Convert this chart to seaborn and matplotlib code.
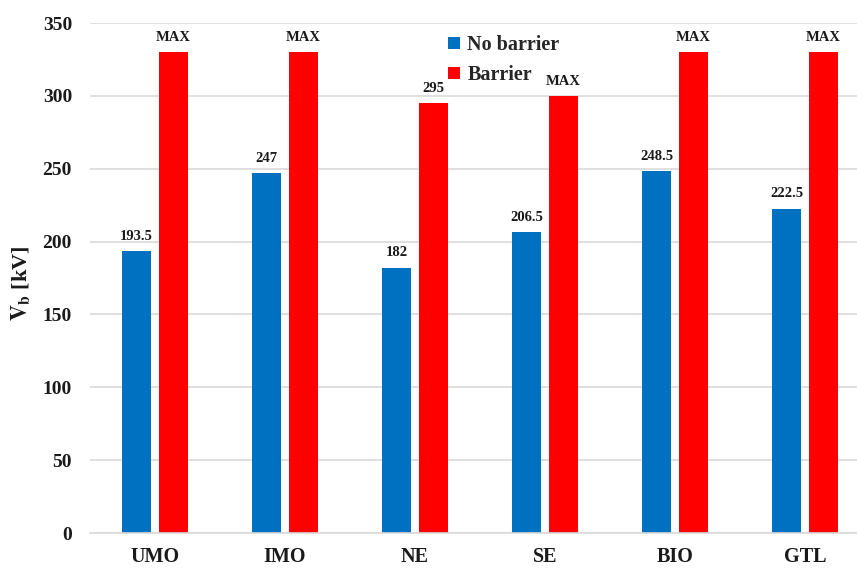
import matplotlib
matplotlib.use("Agg")
import matplotlib.pyplot as plt
from matplotlib.patches import Patch
import pandas as pd
import seaborn as sns

# Breakdown voltage per liquid, with and without barrier
categories = ["UMO", "IMO", "NE", "SE", "BIO", "GTL"]
no_barrier = [193.5, 247, 182, 206.5, 248.5, 222.5]
barrier = [330, 330, 295, 300, 330, 330]
no_barrier_labels = ["193.5", "247", "182", "206.5", "248.5", "222.5"]
barrier_labels = ["MAX", "MAX", "295", "MAX", "MAX", "MAX"]
series_names = ["No barrier", "Barrier"]
yticks = [0, 50, 100, 150, 200, 250, 300, 350]

colors = ["#0070C0", "#FF0000"]

df = pd.DataFrame({
    "Liquid": categories * 2,
    "Vb": no_barrier + barrier,
    "Condition": [series_names[0]] * len(categories) + [series_names[1]] * len(categories),
})

sns.set_theme(style="white")
plt.rcParams["font.family"] = ["Liberation Serif", "DejaVu Serif"]
plt.rcParams["font.weight"] = "bold"
plt.rcParams["mathtext.fontset"] = "stix"

fig = plt.figure(figsize=(8.57, 5.68), dpi=100)
ax = fig.add_axes([90 / 857, 35 / 568, 780 / 857, 510 / 568])

sns.barplot(data=df, x="Liquid", y="Vb", hue="Condition", palette=colors,
            width=0.565, gap=0.21, saturation=1, legend=False,
            linewidth=0, edgecolor="none", ax=ax)

for cont, labs in zip(ax.containers, [no_barrier_labels, barrier_labels]):
    ax.bar_label(cont, labels=labs, padding=6, fontsize=10.5, fontweight="bold",
                 color="#1a1a1a")

ax.set_xlim(-0.5, 5.5)
ax.set_ylim(0, 350)
ax.set_yticks(yticks)
ax.yaxis.grid(True, color="#d9d9d9", lw=1.2)
ax.set_axisbelow(True)
for s in ["left", "right", "top"]:
    ax.spines[s].set_visible(False)
ax.spines["bottom"].set_color("#d9d9d9")
ax.spines["bottom"].set_linewidth(1.2)

ax.tick_params(axis="x", length=0, pad=10, labelsize=14.5, labelcolor="#1a1a1a")
ax.tick_params(axis="y", length=0, pad=13, labelsize=14, labelcolor="#1a1a1a")
for t in ax.get_xticklabels() + ax.get_yticklabels():
    t.set_fontweight("bold")

ax.set_xlabel("")
ax.set_ylabel(r"$\mathbf{V_b}$ [kV]", fontsize=16, fontweight="bold",
              color="#1a1a1a")
ax.yaxis.set_label_coords(-0.073, 0.49)

handles = [Patch(facecolor=c, edgecolor="none") for c in colors]
ax.legend(handles, series_names, loc="upper left",
          bbox_to_anchor=(430 / 857, 1 - 17 / 568), bbox_transform=fig.transFigure,
          frameon=False, handlelength=0.6, handleheight=0.6, handletextpad=0.35,
          labelspacing=0.5, prop={"size": 14.5, "weight": "bold"})

fig.savefig("out.png", dpi=100)
